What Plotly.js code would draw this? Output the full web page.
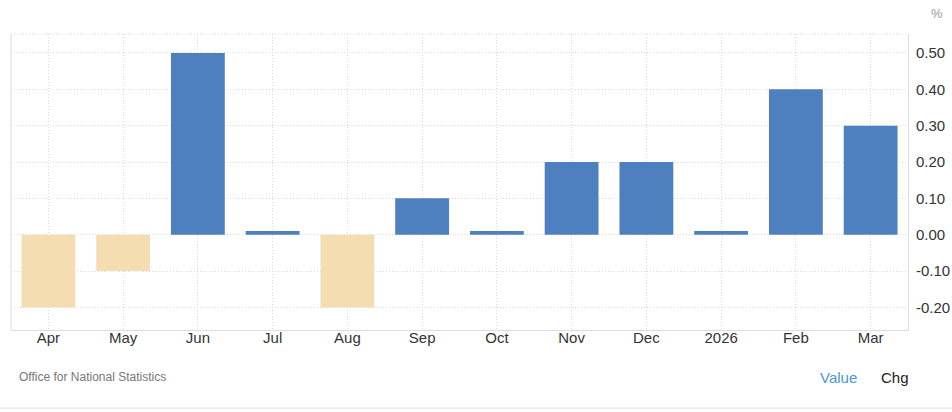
<!DOCTYPE html>
<html>
<head>
<meta charset="utf-8">
<script src="https://cdn.plot.ly/plotly-3.0.1.min.js"></script>
<style>html,body{margin:0;padding:0;background:#fff;}#chart{width:952px;height:412px;}</style>
</head>
<body>
<div id="chart"></div>
<script>
const categories = ["Apr","May","Jun","Jul","Aug","Sep","Oct","Nov","Dec","2026","Feb","Mar"];
const values = [-0.2,-0.1,0.5,0.01,-0.2,0.1,0.01,0.2,0.2,0.01,0.4,0.3];
const tickVals = [-0.2,-0.1,0,0.1,0.2,0.3,0.4,0.5];
const tickText = tickVals.map(v => v.toFixed(2));
const posColor = "#4e7fbf";
const negColor = "#f4deb1";

const trace = {
  type: "bar",
  x: categories,
  y: values,
  marker: {color: values.map(v => v < 0 ? negColor : posColor)},
  width: 0.72,
  hoverinfo: "x+y"
};

const gridDash = "1px,2px";
const layout = {
  width: 952, height: 412,
  margin: {l: 11, r: 44, t: 34, b: 82},
  paper_bgcolor: "#fff", plot_bgcolor: "#fff",
  font: {family: "Arial, 'Liberation Sans', sans-serif", color: "#333"},
  showlegend: false,
  xaxis: {
    type: "category",
    range: [-0.5, 11.5],
    showgrid: true, gridcolor: "#d9d9d9", griddash: gridDash, gridwidth: 1,
    showline: true, linecolor: "#dcdcdc", linewidth: 1,
    ticks: "", tickfont: {size: 15, color: "#333"},
    ticklabelstandoff: -6,
    zeroline: false, fixedrange: true
  },
  yaxis: {
    side: "right",
    range: [-0.262, 0.552],
    tickvals: tickVals, ticktext: tickText,
    showgrid: true, gridcolor: "#d9d9d9", griddash: gridDash, gridwidth: 1,
    zeroline: false,
    showline: true, linecolor: "#dcdcdc", linewidth: 1,
    ticks: "", tickfont: {size: 15, color: "#333"},
    ticklabelstandoff: 4,
    fixedrange: true
  },
  shapes: [
    {type: "line", xref: "paper", yref: "paper", x0: 0, x1: 0, y0: 0, y1: 1, line: {color: "#dcdcdc", width: 1}},
    {type: "line", xref: "paper", yref: "paper", x0: 0, x1: 1, y0: 1, y1: 1, line: {color: "#d9d9d9", width: 1, dash: gridDash}},
    {type: "line", xref: "paper", yref: "paper", x0: -0.02, x1: 1.06, y0: -0.264, y1: -0.264, line: {color: "#e3e3e3", width: 1}}
  ],
  annotations: [
    {text: "%", xref: "paper", yref: "paper", x: 1.032, y: 1.068, xanchor: "center", yanchor: "middle", showarrow: false, font: {size: 13, color: "#999"}},
    {text: "Office for National Statistics", xref: "paper", yref: "paper", x: 0.007, y: -0.159, xanchor: "left", yanchor: "middle", showarrow: false, font: {size: 12, color: "#777"}},
    {text: "Value", xref: "paper", yref: "paper", x: 0.922, y: -0.159, xanchor: "center", yanchor: "middle", showarrow: false, font: {size: 15, color: "#4a98d8"}},
    {text: "Chg", xref: "paper", yref: "paper", x: 0.985, y: -0.159, xanchor: "center", yanchor: "middle", showarrow: false, font: {size: 15, color: "#222"}}
  ]
};

Plotly.newPlot("chart", [trace], layout, {displayModeBar: false});
</script>
</body>
</html>
